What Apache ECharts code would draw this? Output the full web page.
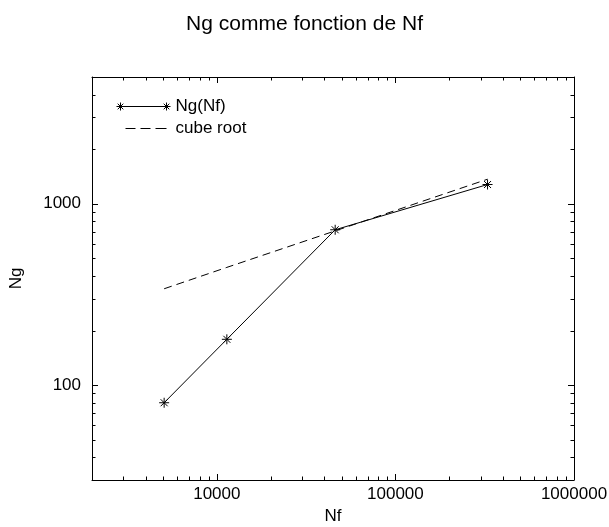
<!DOCTYPE html>
<html>
<head>
<meta charset="utf-8">
<script src="https://cdn.jsdelivr.net/npm/echarts@6/dist/echarts.min.js"></script>
<style>
html, body { margin: 0; padding: 0; background: #fff; }
#main { width: 609px; height: 527px; }
</style>
</head>
<body>
<div id="main"></div>
<script>
/********* data *****************************/
var nf = [5070, 11380, 46000, 328000];
var ng = [80, 179, 719, 1277];
var cubeRoot = [340, 446, 709, 1366];
var xMinor = [3000, 4000, 5000, 6000, 7000, 8000, 9000,
              20000, 30000, 40000, 50000, 60000, 70000, 80000, 90000,
              200000, 300000, 400000, 500000, 600000, 700000, 800000, 900000];
var yMinor = [40, 50, 60, 70, 80, 90,
              200, 300, 400, 500, 600, 700, 800, 900,
              2000, 3000, 4000];
var xMin = 2000, xMax = 1000000;
var yMin = 30, yMax = 5000;

var dom = document.getElementById("main");
var myChart = echarts.init(dom);

var star = 'path://M0,5L10,5M5,0L5,10M1.5,1.5L8.5,8.5M8.5,1.5L1.5,8.5';
var legendStar = 'path://M0,5L8,5M4,1L4,9M1.2,2.2L6.8,7.8M6.8,2.2L1.2,7.8M4,5L50,5' +
                 'M46,5L54,5M50,1L50,9M47.2,2.2L52.8,7.8M52.8,2.2L47.2,7.8';
var legendDash = 'path://M0,1M54,9M9,5L19,5M24,5L34,5M39,5L50,5';

function pairs(xs, ys) {
    var out = [];
    for (var i = 0; i < xs.length; i++) out.push([xs[i], ys[i]]);
    return out;
}

// only label the decades
function decadeLabel(v) {
    var l = Math.log(v) / Math.LN10;
    if (Math.abs(l - Math.round(l)) < 1e-6) return String(Math.round(v));
    return '';
}

var font = 'Liberation Sans, Arial, sans-serif';
var tickLen = 3.5;

// minor log ticks (2..9 x decade), bottom + top
function minorX(params, api) {
    var cs = params.coordSys;
    var p = api.coord([api.value(0), yMin]);
    var x = Math.round(p[0]) + 0.5;
    var b = cs.y + cs.height, t = cs.y;
    return {type: 'group', children: [
        {type: 'line', shape: {x1: x, y1: b, x2: x, y2: b - tickLen}, style: {stroke: '#000', lineWidth: 1}},
        {type: 'line', shape: {x1: x, y1: t, x2: x, y2: t + tickLen}, style: {stroke: '#000', lineWidth: 1}}
    ]};
}

// minor log ticks, left + right
function minorY(params, api) {
    var cs = params.coordSys;
    var p = api.coord([xMin, api.value(1)]);
    var y = Math.round(p[1]) + 0.5;
    var l = cs.x, r = cs.x + cs.width;
    return {type: 'group', children: [
        {type: 'line', shape: {x1: l, y1: y, x2: l + tickLen, y2: y}, style: {stroke: '#000', lineWidth: 1}},
        {type: 'line', shape: {x1: r, y1: y, x2: r - tickLen, y2: y}, style: {stroke: '#000', lineWidth: 1}}
    ]};
}

var axisLine = {show: true, onZero: false, lineStyle: {color: '#000', width: 1}};
var majorTick = {show: true, inside: true, length: 6, lineStyle: {color: '#000', width: 1}};

option = {
    animation: false,
    textStyle: {fontFamily: font},
    title: {
        text: 'Ng comme fonction de Nf',
        left: 'center',
        top: 9,
        textStyle: {fontSize: 21, fontWeight: 'normal', color: '#000', fontFamily: font}
    },
    legend: {
        orient: 'vertical',
        left: 111,
        top: 93,
        itemWidth: 54,
        itemHeight: 8,
        itemGap: 5,
        textStyle: {fontSize: 17, color: '#000', fontFamily: font},
        itemStyle: {color: 'transparent', borderColor: '#000', borderWidth: 1},
        data: [
            {name: 'Ng(Nf)', icon: legendStar},
            {name: 'cube root', icon: legendDash}
        ]
    },
    grid: {left: 92, right: 35, top: 77, bottom: 47, containLabel: false, outerBoundsMode: 'none'},
    xAxis: [{
        type: 'log',
        logBase: 10,
        min: xMin,
        max: xMax,
        position: 'bottom',
        name: 'Nf',
        nameLocation: 'middle',
        nameGap: 26,
        nameTextStyle: {fontSize: 17, color: '#000', fontFamily: font},
        axisLine: axisLine,
        axisTick: majorTick,
        splitLine: {show: false},
        axisLabel: {margin: 6, fontSize: 17, color: '#000', fontFamily: font, formatter: decadeLabel}
    }, {
        type: 'log',
        logBase: 10,
        min: xMin,
        max: xMax,
        position: 'top',
        axisLine: axisLine,
        axisTick: majorTick,
        splitLine: {show: false},
        axisLabel: {show: false}
    }],
    yAxis: [{
        type: 'log',
        logBase: 10,
        min: yMin,
        max: yMax,
        position: 'left',
        name: 'Ng',
        nameLocation: 'middle',
        nameGap: 67,
        nameTextStyle: {fontSize: 17, color: '#000', fontFamily: font},
        axisLine: axisLine,
        axisTick: majorTick,
        splitLine: {show: false},
        axisLabel: {margin: 11, fontSize: 17, color: '#000', fontFamily: font, formatter: decadeLabel}
    }, {
        type: 'log',
        logBase: 10,
        min: yMin,
        max: yMax,
        position: 'right',
        axisLine: axisLine,
        axisTick: majorTick,
        splitLine: {show: false},
        axisLabel: {show: false}
    }],
    series: [
        {
            name: 'Ng(Nf)',
            type: 'line',
            data: pairs(nf, ng),
            symbol: star,
            symbolSize: 10,
            lineStyle: {color: '#000', width: 1},
            itemStyle: {color: '#000', borderColor: '#000', borderWidth: 1}
        },
        {
            name: 'cube root',
            type: 'line',
            data: pairs(nf, cubeRoot),
            showSymbol: false,
            symbol: 'none',
            lineStyle: {color: '#000', width: 1, type: [8, 5]},
            itemStyle: {color: '#000'}
        },
        {
            name: 'minorX',
            type: 'custom',
            renderItem: minorX,
            data: xMinor.map(function (v) { return [v, yMin]; }),
            silent: true
        },
        {
            name: 'minorY',
            type: 'custom',
            renderItem: minorY,
            data: yMinor.map(function (v) { return [xMin, v]; }),
            silent: true
        }
    ]
};

if (option && typeof option === "object") {
    myChart.setOption(option, true);
}
</script>
</body>
</html>
